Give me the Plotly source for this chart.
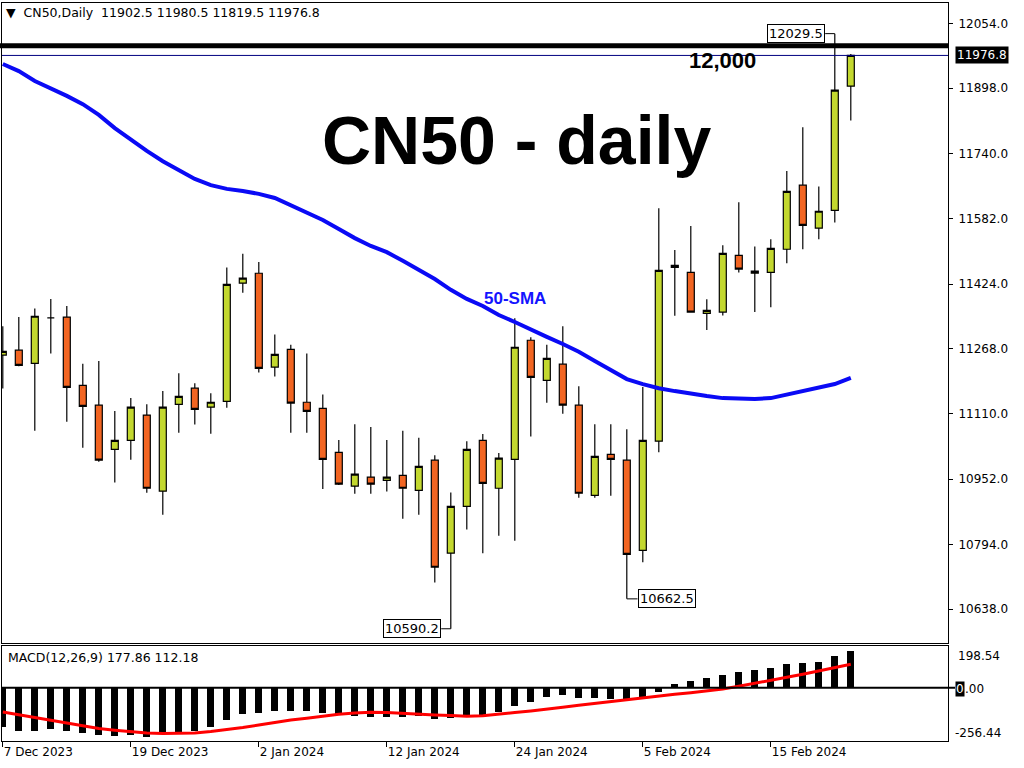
import plotly.graph_objects as go

# ---------------- data ----------------
dates = [
    "2023-12-07", "2023-12-08", "2023-12-11", "2023-12-12", "2023-12-13", "2023-12-14",
    "2023-12-15", "2023-12-18", "2023-12-19", "2023-12-20", "2023-12-21", "2023-12-22",
    "2023-12-26", "2023-12-27", "2023-12-28", "2023-12-29", "2024-01-02", "2024-01-03",
    "2024-01-04", "2024-01-05", "2024-01-08", "2024-01-09", "2024-01-10", "2024-01-11",
    "2024-01-12", "2024-01-15", "2024-01-16", "2024-01-17", "2024-01-18", "2024-01-19",
    "2024-01-22", "2024-01-23", "2024-01-24", "2024-01-25", "2024-01-26", "2024-01-29",
    "2024-01-30", "2024-01-31", "2024-02-01", "2024-02-02", "2024-02-05", "2024-02-06",
    "2024-02-07", "2024-02-08", "2024-02-09", "2024-02-12", "2024-02-13", "2024-02-14",
    "2024-02-15", "2024-02-16", "2024-02-19", "2024-02-20", "2024-02-21", "2024-02-22",
]
opens = [11252, 11264, 11232, 11342, 11344, 11179, 11131, 11024, 11046, 11107,
         10923, 11133, 11172, 11126, 11140, 11426, 11450, 11223, 11266, 11138,
         11123, 11017, 10935, 10957, 10949, 10961, 10925, 10998, 10773, 10886,
         11046, 10930, 11000, 11288, 11191, 11230, 11131, 10913, 11012, 10998,
         10780, 11044, 11464, 11452, 11353, 11356, 11493, 11450, 11452, 11508,
         11663, 11559, 11602, 11902.5]
highs = [11322, 11344, 11365, 11388, 11371, 11231, 11238, 11117, 11148, 11133,
         11165, 11208, 11184, 11160, 11464, 11497, 11477, 11302, 11277, 11256,
         11157, 11047, 11085, 11078, 11047, 11069, 11052, 11010, 10920, 11044,
         11061, 11015, 11341, 11295, 11277, 11322, 11177, 11085, 11085, 11073,
         11175, 11607, 11506, 11564, 11387, 11518, 11622, 11515, 11532, 11697,
         11803, 11660, 12029.5, 11980.5]
lows = [11171, 11225, 11069, 11256, 11091, 11028, 10994, 10944, 10999, 10919,
        10866, 11064, 11084, 11062, 11125, 11403, 11210, 11200, 11064, 11064,
        10928, 10938, 10917, 10917, 10922, 10856, 10866, 10702, 10590.2, 10830,
        10773, 10815, 10803, 11055, 11137, 11110, 10907, 10907, 10912, 10662.5,
        10751, 11017, 11347, 11355, 11313, 11348, 11452, 11356, 11368, 11474,
        11508, 11532, 11573, 11819.5]
closes = [11261, 11227, 11346, 11342, 11174, 11128, 10998, 11046, 11126, 10930,
          11126, 11152, 11121, 11138, 11423, 11438, 11220, 11254, 11136, 11116,
          11000, 10940, 10964, 10940, 10957, 10930, 10983, 10739, 10886, 11024,
          10942, 11003, 11271, 11198, 11244, 11131, 10918, 11007, 11000, 10770,
          11046, 11457, 11469, 11356, 11360, 11498, 11460, 11455, 11510, 11648,
          11566, 11600, 11893, 11976.8]
sma50 = [11956, 11939, 11915, 11898, 11879, 11859, 11833, 11801, 11772, 11746,
         11721, 11700, 11678, 11663, 11654, 11649, 11642, 11632, 11615, 11598,
         11579, 11557, 11535, 11516, 11501, 11480, 11459, 11436, 11410, 11388,
         11371, 11349, 11332, 11313, 11296, 11279, 11260, 11238, 11216, 11194,
         11182, 11172, 11165, 11158, 11153, 11148, 11146, 11146, 11148, 11156,
         11165, 11172, 11182, 11197]
macd_hist = [-186, -202, -202, -197, -206, -212, -225, -229, -225, -234,
             -213, -213, -202, -186, -154, -124, -119, -110, -110, -110,
             -119, -122, -134, -139, -139, -139, -135, -148, -141, -132,
             -126, -115, -83, -64, -43, -35, -48, -48, -50, -50,
             -45, -19, 18, 32, 46, 65, 75, 85, 94, 113,
             118, 123, 153, 177.86]
macd_signal = [-115, -128, -142, -156, -170, -182, -194, -202, -210, -215,
               -218, -217, -215, -208, -200, -189, -177, -164, -153, -145,
               -135, -126, -120, -116, -117, -122, -125, -129, -132, -135,
               -133, -127, -118, -110, -103, -93, -83, -74, -64, -55,
               -46, -38, -31, -23, -14, -5, 8, 21, 36, 50,
               65, 81, 97, 112.18]
tick_dates = ["2023-12-07", "2023-12-19", "2024-01-02", "2024-01-12",
              "2024-01-24", "2024-02-05", "2024-02-15"]
tick_labels = ["7 Dec 2023", "19 Dec 2023", "2 Jan 2024", "12 Jan 2024",
               "24 Jan 2024", "5 Feb 2024", "15 Feb 2024"]
price_ticks = [12054.0, 11898.0, 11740.0, 11582.0, 11424.0,
               11268.0, 11110.0, 10952.0, 10794.0, 10638.0]
macd_scale_labels = [198.54, 0.00, -256.44]
level_12000 = 12000
last_price = 11976.8
hi_label, lo_label1, lo_label2 = 12029.5, 10590.2, 10662.5

# ---------------- styling ----------------
W, H = 1024, 768
ML, MR, MT, MB = 2, 76, 3, 27
GREEN = "#C3D82F"
ORANGE = "#F26522"
FONT = "DejaVu Sans"
PW, PH = W - ML - MR, H - MT - MB


def px(xp):
    return (xp - ML) / PW


def py(yp):
    return (H - MB - yp) / PH


idx = list(range(len(dates)))
xrange_ = [-0.05, -0.05 + PW / 16.0]

fig = go.Figure()
fig.add_trace(go.Candlestick(
    x=idx, open=opens, high=highs, low=lows, close=closes,
    increasing=dict(fillcolor=GREEN, line=dict(color="black", width=1.2)),
    decreasing=dict(fillcolor=ORANGE, line=dict(color="black", width=1.2)),
    whiskerwidth=0, xaxis="x", yaxis="y", hoverinfo="skip", showlegend=False))
fig.add_trace(go.Scatter(
    x=idx, y=sma50, mode="lines", line=dict(color="#0A0AF5", width=4),
    xaxis="x", yaxis="y", hoverinfo="skip", showlegend=False))
fig.add_trace(go.Bar(
    x=idx, y=macd_hist, width=0.42, marker=dict(color="black", line=dict(width=0)),
    xaxis="x2", yaxis="y2", hoverinfo="skip", showlegend=False))
fig.add_trace(go.Scatter(
    x=idx, y=macd_signal, mode="lines", line=dict(color="#FF0000", width=3),
    xaxis="x2", yaxis="y2", hoverinfo="skip", showlegend=False))

axis_common = dict(showline=True, mirror=True, linecolor="black", linewidth=1,
                   showgrid=False, zeroline=False, fixedrange=True)

main_bottom = py(642.7)
macd_top = py(645.7)

fig.update_layout(
    width=W, height=H, margin=dict(l=ML, r=MR, t=MT, b=MB),
    paper_bgcolor="white", plot_bgcolor="white",
    boxgap=0.375, bargap=0, showlegend=False,
    font=dict(family=FONT, size=12, color="black"),
    xaxis=dict(domain=[0, 1], anchor="y", range=xrange_, showticklabels=False,
               ticks="", rangeslider=dict(visible=False), **axis_common),
    yaxis=dict(domain=[main_bottom, 1], anchor="x", side="right",
               range=[10556.5, 12103.6], tickvals=price_ticks,
               ticktext=[f"{v:.1f}" for v in price_ticks],
               ticks="outside", ticklen=4, tickcolor="black", ticklabelstandoff=3,
               tickfont=dict(family=FONT, size=12, color="black"), **axis_common),
    xaxis2=dict(domain=[0, 1], anchor="y2", range=xrange_,
                tickvals=[dates.index(d) for d in tick_dates], ticktext=tick_labels,
                ticks="outside", ticklen=5, tickcolor="black",
                ticklabelposition="outside right",
                tickfont=dict(family=FONT, size=12, color="black"), **axis_common),
    yaxis2=dict(domain=[0, macd_top], anchor="x2", side="right",
                range=[-253.3, 200.8], showticklabels=False, ticks="",
                **axis_common),
)

shapes = [
    dict(type="line", xref="paper", yref="y", x0=px(0), x1=1, y0=level_12000, y1=level_12000,
         line=dict(color="black", width=5)),
    dict(type="line", xref="paper", yref="y", x0=0, x1=1, y0=last_price, y1=last_price,
         line=dict(color="#000080", width=1)),
    dict(type="line", xref="paper", yref="y2", x0=0, x1=px(955), y0=0, y1=0,
         line=dict(color="black", width=2)),
    dict(type="line", xref="x", yref="y", x0=51.4, x1=52, y0=hi_label, y1=hi_label,
         line=dict(color="black", width=1)),
    dict(type="line", xref="x", yref="y", x0=27.4, x1=28, y0=lo_label1, y1=lo_label1,
         line=dict(color="black", width=1)),
    dict(type="line", xref="x", yref="y", x0=39, x1=39.67, y0=lo_label2, y1=lo_label2,
         line=dict(color="black", width=1)),
]
fig.update_layout(shapes=shapes)

ann = []


def text(xp, yp, s, size=12, color="black", xanchor="left",
         family=FONT, **kw):
    ann.append(dict(xref="paper", yref="paper", x=px(xp), y=py(yp), text=s,
                    showarrow=False, xanchor=xanchor, yanchor="middle",
                    font=dict(family=family, size=size, color=color), **kw))


text(4, 13, "▼  CN50,Daily  11902.5 11980.5 11819.5 11976.8", size=12.5)
text(6, 657, "MACD(12,26,9) 177.86 112.18", size=12.5)
text(516, 140, "<b>CN50 - daily</b>", size=68, xanchor="center",
     family="Liberation Sans, Arial")
text(722, 61, "<b>12,000</b>", size=22, xanchor="center", family="Liberation Sans, Arial")
text(515, 298, "<b>50-SMA</b>", size=17, xanchor="center", color="#1414FF",
     family="Liberation Sans, Arial")
text(955, 55, f"{last_price:.1f}", size=12, color="white", bgcolor="black", borderpad=1)
text(956, 656, f"{macd_scale_labels[0]:.2f}", size=12)
text(955, 689, "0", size=12, color="white", bgcolor="black", borderpad=0)
text(963, 689, ".00", size=12)
text(953, 733, f"{macd_scale_labels[2]:.2f}", size=12)

for xv, yv, anchor in [(51.4, hi_label, "right"), (27.4, lo_label1, "right"),
                       (39.67, lo_label2, "left")]:
    ann.append(dict(xref="x", yref="y", x=xv, y=yv, text=f"{yv:.1f}",
                    showarrow=False, xanchor=anchor, yanchor="middle",
                    bgcolor="white", bordercolor="black", borderwidth=1, borderpad=1,
                    font=dict(family=FONT, size=13, color="black")))

fig.update_layout(annotations=ann)

fig.write_html("out.html", config={"displayModeBar": False},
               post_script="document.body.style.margin='0';")
